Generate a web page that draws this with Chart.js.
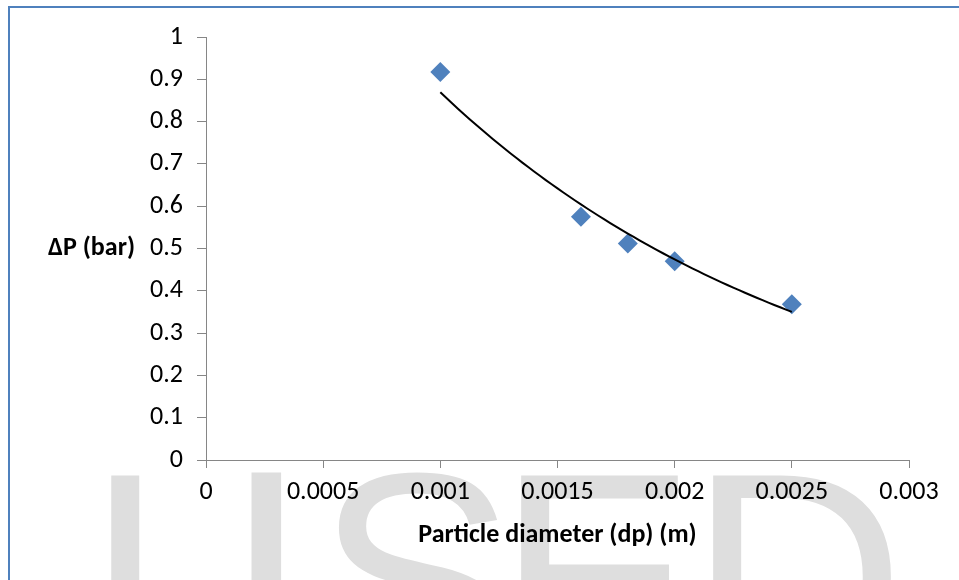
<!DOCTYPE html>
<html>
<head>
<meta charset="utf-8">
<script src="https://cdn.jsdelivr.net/npm/chart.js@4.4.0/dist/chart.umd.min.js"></script>
<style>
body { margin: 0; background: #fff; }
#wrap { position: relative; width: 959px; height: 580px; }
</style>
</head>
<body>
<div id="wrap"><canvas id="dpChart"></canvas></div>
<script>
// particle diameter (m) vs pressure drop (bar)
var diameters = [0.001, 0.0016, 0.0018, 0.002, 0.0025];
var pressureDrop = [0.917, 0.575, 0.512, 0.470, 0.368];

var xTickValues = [0, 0.0005, 0.001, 0.0015, 0.002, 0.0025, 0.003];
var xTickLabels = ['0', '0.0005', '0.001', '0.0015', '0.002', '0.0025', '0.003'];
var yTickValues = [0, 0.1, 0.2, 0.3, 0.4, 0.5, 0.6, 0.7, 0.8, 0.9, 1];
var yTickLabels = ['0', '0.1', '0.2', '0.3', '0.4', '0.5', '0.6', '0.7', '0.8', '0.9', '1'];

var xTitle = 'Particle diameter (dp) (m)';
var yTitle = '\u0394P (bar)';
var watermark = ['I', 'J', 'S', 'E', 'D'];

var tickFont = 'Carlito, Lato, sans-serif';

// exponential trendline, least squares on ln(y) like excel does
function expFit(xs, ys) {
    var n = xs.length, sx = 0, sy = 0, sxx = 0, sxy = 0;
    for (var k = 0; k < n; k++) {
        var ly = Math.log(ys[k]);
        sx += xs[k]; sy += ly; sxx += xs[k] * xs[k]; sxy += xs[k] * ly;
    }
    var b = (n * sxy - sx * sy) / (n * sxx - sx * sx);
    var a = Math.exp((sy - b * sx) / n);
    return { a: a, b: b };
}
var fit = expFit(diameters, pressureDrop);
var trend = [];
var x0 = diameters[0], x1 = diameters[diameters.length - 1];
for (var k = 0; k <= 60; k++) {
    var xv = x0 + (x1 - x0) * k / 60;
    trend.push({ x: xv, y: fit.a * Math.exp(fit.b * xv) });
}

var points = diameters.map(function (d, idx) { return { x: d, y: pressureDrop[idx] }; });

// blue frame + watermark behind the chart
var backdrop = {
    id: 'backdrop',
    beforeDraw: function (chart) {
        var ctx = chart.ctx;
        ctx.save();
        ctx.fillStyle = '#dedede';
        ctx.textBaseline = 'alphabetic';
        var lefts = [107, null, 325, 520, 712];
        watermark.forEach(function (ch, idx) {
            // the J with a descender keeps its hook out of view
            ctx.font = idx === 1 ? '300px "DejaVu Sans", sans-serif' : '300px "Liberation Sans", Arial, sans-serif';
            var m = ctx.measureText(ch);
            var base = 471 + m.actualBoundingBoxAscent;
            var x;
            if (idx === 1) {
                x = 283 - m.actualBoundingBoxRight;
            } else {
                x = lefts[idx] + m.actualBoundingBoxLeft;
            }
            ctx.fillText(ch, x, base);
        });
        ctx.strokeStyle = '#4f81bd';
        ctx.lineWidth = 2;
        ctx.beginPath();
        ctx.moveTo(9, 580);
        ctx.lineTo(9, 7);
        ctx.lineTo(959, 7);
        ctx.stroke();
        ctx.restore();
    },
    afterDraw: function (chart) {
        var ctx = chart.ctx;
        var ys = chart.scales.y, xs = chart.scales.x;
        ctx.save();
        ctx.fillStyle = '#000';
        ctx.font = 'bold 26px ' + tickFont;
        ctx.textBaseline = 'middle';
        ctx.textAlign = 'right';
        ctx.fillText(yTitle, 135, ys.getPixelForValue(0.5));
        ctx.textAlign = 'center';
        ctx.fillText(xTitle, (xs.left + xs.right) / 2, 535);
        ctx.restore();
    }
};

var ctx = document.getElementById('dpChart').getContext('2d');

var dpchart = new Chart(ctx, {
    type: 'scatter',
    data: {
        datasets: [{
            label: 'trend',
            type: 'line',
            data: trend,
            borderColor: '#000',
            borderWidth: 2,
            pointRadius: 0,
            fill: false,
            tension: 0
        }, {
            label: 'dP',
            data: points,
            pointStyle: 'rectRot',
            pointRadius: 10,
            pointHoverRadius: 10,
            backgroundColor: '#4f81bd',
            borderColor: '#4f81bd',
            borderWidth: 0
        }]
    },
    options: {
        responsive: true,
        maintainAspectRatio: false,
        animation: false,
        layout: { padding: { top: 37, right: 50, left: 0, bottom: 0 } },
        plugins: { legend: { display: false }, tooltip: { enabled: false } },
        scales: {
            x: {
                type: 'linear',
                min: 0,
                max: 0.003,
                afterBuildTicks: function (s) { s.ticks = xTickValues.map(function (v) { return { value: v }; }); },
                afterFit: function (s) { s.height = 120; },
                grid: { drawOnChartArea: false, color: '#868686', tickLength: 8 },
                border: { color: '#868686', width: 1 },
                ticks: {
                    color: '#000',
                    padding: 9,
                    maxRotation: 0,
                    font: { family: tickFont, size: 26 },
                    callback: function (v, i) { return xTickLabels[i]; }
                }
            },
            y: {
                min: 0,
                max: 1,
                afterBuildTicks: function (s) { s.ticks = yTickValues.map(function (v) { return { value: v }; }); },
                afterFit: function (s) { s.width = 206; },
                grid: { drawOnChartArea: false, color: '#868686', tickLength: 9 },
                border: { color: '#868686', width: 1 },
                ticks: {
                    color: '#000',
                    padding: 14,
                    font: { family: tickFont, size: 26 },
                    callback: function (v, i) { return yTickLabels[i]; }
                }
            }
        }
    },
    plugins: [backdrop]
});
</script>
</body>
</html>
